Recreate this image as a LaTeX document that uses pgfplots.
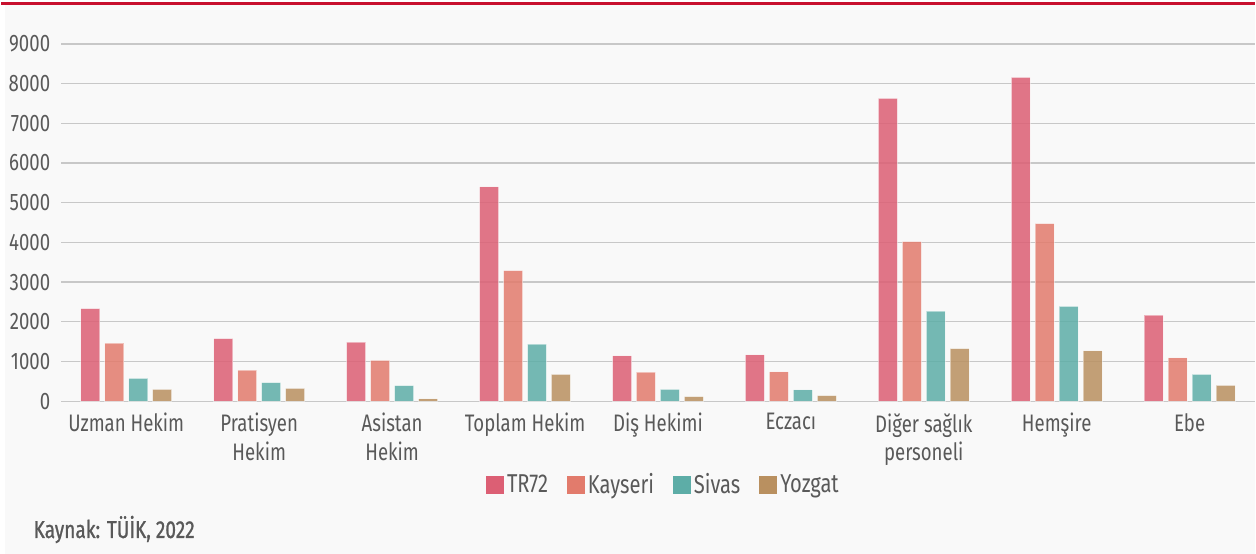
\documentclass[border=0pt]{standalone}
\usepackage{pgfplots}
\usepackage{pgfplotstable}
\pgfplotsset{compat=1.18}
\usepackage{fontspec}
\setmainfont{Fira Sans}[FakeStretch=0.78]
\newfontfamily\srcfont{Fira Sans}[FakeStretch=0.78,FakeBold=1]

\definecolor{bg}{HTML}{F9F9F9}
\definecolor{topred}{HTML}{C8102E}
\definecolor{txt}{HTML}{595959}
\definecolor{gridc}{HTML}{C8C8C8}
\definecolor{cTR}{HTML}{DC5F74}
\definecolor{cKay}{HTML}{E27B6C}
\definecolor{cSiv}{HTML}{5DADA7}
\definecolor{cYoz}{HTML}{B99060}

% columns: x = category index, TR72, Kayseri, Sivas, Yozgat
\pgfplotstableread{
x  tr    kay   siv   yoz
0  2330  1460  575   300
1  1575  785   465   325
2  1485  1025  390   60
3  5400  3290  1440  675
4  1140  730   300   115
5  1165  740   285   140
6  7630  4020  2270  1325
7  8160  4470  2385  1270
8  2170  1090  675   400
}\datatable

\begin{document}
\begin{tikzpicture}
\fill[white] (0,0) rectangle (628bp,277.5bp);
\fill[bg] (2bp,0) rectangle (628bp,276bp);
\draw[topred, line width=1.3bp] (0,275.6bp) -- (628bp,275.6bp);
\node[anchor=west, text=txt, font=\srcfont\fontsize{12.3}{14}\selectfont, inner sep=0pt]
  at (16bp,12.2bp) {Kaynak: TÜİK, 2022};
\begin{axis}[
  at={(30bp,76.5bp)}, anchor=south west,
  scale only axis, width=598bp, height=179bp,
  xmin=-0.49, xmax=8.49, ymin=0, ymax=9000,
  ybar=2.5bp, bar width=9.5bp,
  axis line style={draw=none},
  major tick length=0pt,
  ytick={0,1000,...,9000},
  ymajorgrids, grid style={gridc, line width=0.6bp},
  xtick={0,...,8},
  xticklabels={Uzman Hekim,{Pratisyen\\Hekim},{Asistan\\Hekim},Toplam Hekim,Diş Hekimi,Eczacı,{Diğer sağlık\\personeli},Hemşire,Ebe},
  xticklabel style={align=center, text=txt, font=\fontsize{12}{14.5}\selectfont, yshift=-2.5bp},
  yticklabel style={text=txt, font=\fontsize{12}{13}\selectfont, xshift=-2bp},
  /pgf/number format/assume math mode=true,
  /pgf/number format/1000 sep={},
  scaled y ticks=false,
  legend columns=-1,
  legend style={at={(axis description cs:0.505,-0.234)}, anchor=center, draw=none, fill=none,
    font=\fontsize{13}{15}\selectfont, text=txt,
    nodes={inner xsep=1.5bp},
    /tikz/every odd column/.append style={column sep=0bp},
    /tikz/every even column/.append style={column sep=8bp}},
  legend image code/.code={\fill[#1, fill opacity=1, draw=none] (0bp,-4.5bp) rectangle (9bp,4.5bp);},
  every axis plot/.append style={fill opacity=0.85, draw=white, draw opacity=0.45, line width=0.5bp},
]
\addplot[fill=cTR] table[x=x, y=tr] {\datatable};
\addplot[fill=cKay] table[x=x, y=kay] {\datatable};
\addplot[fill=cSiv] table[x=x, y=siv] {\datatable};
\addplot[fill=cYoz] table[x=x, y=yoz] {\datatable};
\legend{TR72,Kayseri,Sivas,Yozgat}
\end{axis}
\end{tikzpicture}
\end{document}
